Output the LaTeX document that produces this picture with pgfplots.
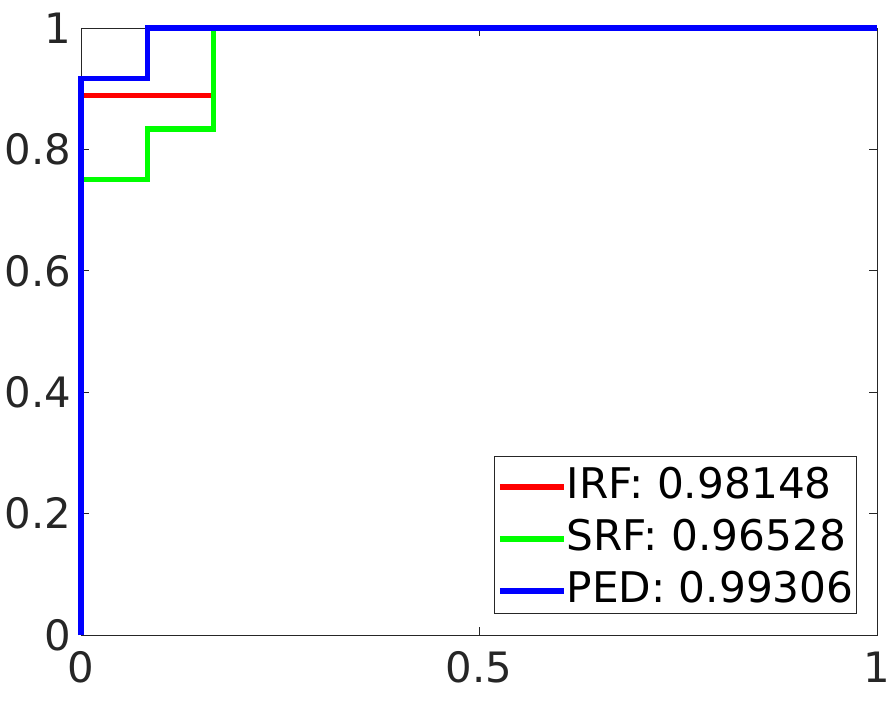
\documentclass[border=0pt]{standalone}
\usepackage{pgfplots}
\pgfplotsset{compat=1.18}
\usepackage{fontspec}
\setmainfont{DejaVu Sans}
\definecolor{axgray}{HTML}{262626}
\definecolor{myred}{HTML}{FF0000}
\definecolor{mygreen}{HTML}{00FF00}
\definecolor{myblue}{HTML}{0000FF}
\begin{document}
\begin{tikzpicture}
\begin{axis}[
  scale only axis,
  width=796bp, height=607bp,
  xmin=0, xmax=1, ymin=0, ymax=1,
  clip=false,
  xtick={0,0.5,1},
  ytick={0,0.2,0.4,0.6,0.8,1},
  xticklabels={0,0.5,1},
  yticklabels={0,0.2,0.4,0.6,0.8,1},
  tick align=inside,
  major tick length=8bp,
  axis line style={axgray, line width=0.9bp},
  every tick/.style={axgray, line width=0.9bp},
  tick label style={font=\fontsize{42}{50}\selectfont, text=axgray},
  xticklabel style={yshift=-13bp},
  yticklabel style={xshift=-6bp},
  /pgf/number format/assume math mode=true,
  legend style={at={(rel axis cs:0.975,0.035)}, anchor=south east,
    draw=axgray, line width=0.9bp, fill=white,
    font=\fontsize{42.4}{50}\selectfont,
    nodes={inner sep=0pt, text height=31bp, text depth=0bp},
    inner xsep=3bp, inner ysep=11bp,
    row sep=21bp,
    /tikz/every odd column/.style={column sep=0bp},
    legend cell align=left},
  legend image code/.code={\draw[#1, line width=5.5bp] (0bp,-4bp) -- (64bp,-4bp);},
]
\addplot[myred, line width=5.5bp] coordinates {
  (0,0) (0,0.888889) (0.166667,0.888889) (0.166667,1) (1,1)
};
\addlegendentry{IRF: 0.98148}
\addplot[mygreen, line width=5.5bp] coordinates {
  (0,0) (0,0.75) (0.083333,0.75) (0.083333,0.833333) (0.166667,0.833333) (0.166667,1) (1,1)
};
\addlegendentry{SRF: 0.96528}
\addplot[myblue, line width=5.5bp] coordinates {
  (0,0) (0,0.916667) (0.083333,0.916667) (0.083333,1) (1,1)
};
\addlegendentry{PED: 0.99306}
\end{axis}
\pgfresetboundingbox
\path[use as bounding box] ([xshift=-81bp,yshift=-68bp]current axis.south west) rectangle ([xshift=14bp,yshift=28bp]current axis.north east);
\end{tikzpicture}
\end{document}
